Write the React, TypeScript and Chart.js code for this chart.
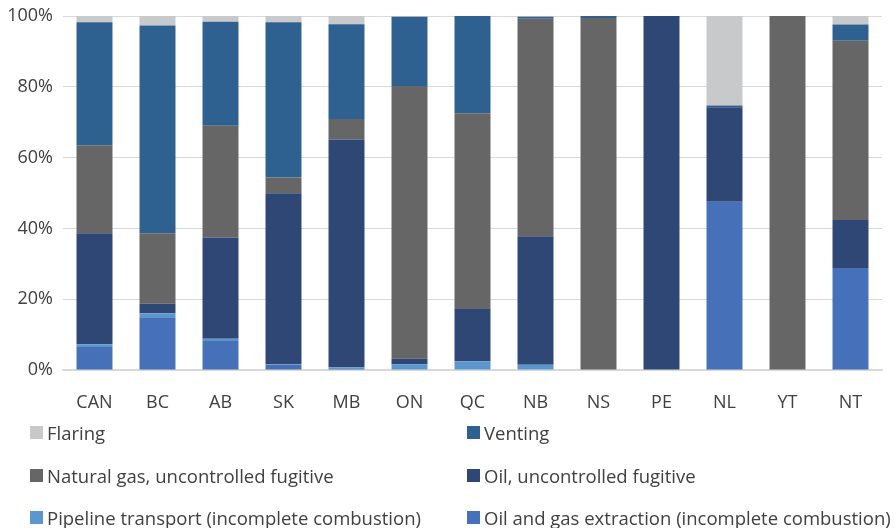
import React, { useEffect, useRef } from "react";
import { Chart, registerables } from "chart.js";

Chart.register(...registerables);

const categories = ["CAN", "BC", "AB", "SK", "MB", "ON", "QC", "NB", "NS", "PE", "NL", "YT", "NT"];

const extraction = [6.5, 14.7, 8.4, 1.5, 0.3, 0, 0, 0, 0, 0, 47.5, 0, 28.8];
const pipeline = [0.8, 1.3, 0.4, 0.2, 0.5, 1.6, 2.5, 1.5, 0, 0, 0, 0, 0];
const oilFugitive = [31.3, 2.7, 28.6, 48.2, 64.3, 1.6, 14.7, 36.3, 0, 100, 26.7, 0, 13.6];
const gasFugitive = [24.9, 19.9, 31.6, 4.5, 5.8, 77.0, 55.3, 61.4, 99.4, 0, 0, 100, 50.6];
const venting = [34.7, 58.7, 29.4, 43.8, 26.8, 19.6, 27.5, 0.6, 0.6, 0, 0.5, 0, 4.6];
const flaring = [1.8, 2.7, 1.6, 1.8, 2.3, 0.2, 0, 0.2, 0, 0, 25.3, 0, 2.4];

const yTicks = [0, 20, 40, 60, 80, 100];

const seriesNames = [
  "Oil and gas extraction (incomplete combustion)",
  "Pipeline transport (incomplete combustion)",
  "Oil, uncontrolled fugitive",
  "Natural gas, uncontrolled fugitive",
  "Venting",
  "Flaring",
];
const seriesValues = [extraction, pipeline, oilFugitive, gasFugitive, venting, flaring];
const seriesColors = ["#4671B8", "#5B97CD", "#2F4774", "#666666", "#2F6190", "#C8C9CB"];

// legend layout: reading order (left column, right column) per row
const legendOrder = [5, 4, 3, 2, 1, 0];

const FONT = "'Open Sans', 'Noto Sans', sans-serif";
const TEXT = "#404040";

export default function App() {
  const ref = useRef<HTMLCanvasElement | null>(null);

  useEffect(() => {
    document.body.style.margin = "0";
    const canvas = ref.current;
    if (!canvas) return;
    const chart = new Chart(canvas, {
      type: "bar",
      data: {
        labels: categories,
        datasets: seriesNames.map((name, i) => ({
          label: name,
          data: seriesValues[i],
          backgroundColor: seriesColors[i],
          borderWidth: 0,
          categoryPercentage: 1,
          barPercentage: 0.571,
        })),
      },
      options: {
        animation: false,
        responsive: false,
        maintainAspectRatio: false,
        layout: { padding: { left: 0, right: 14, top: 16, bottom: 118 } },
        plugins: {
          legend: { display: false },
          tooltip: { enabled: false },
        },
        scales: {
          x: {
            stacked: true,
            grid: { display: false },
            border: { display: true, color: "#D9D9D9", width: 1.5 },
            ticks: {
              color: TEXT,
              font: { family: FONT, size: 18 },
              padding: 14,
              maxRotation: 0,
            },
            afterFit: (s: any) => {
              s.height = 40;
              s.paddingLeft = 0;
              s.paddingRight = 0;
            },
          },
          y: {
            stacked: true,
            min: 0,
            max: 100,
            afterBuildTicks: (s: any) => {
              s.ticks = yTicks.map((v) => ({ value: v }));
            },
            grid: { color: "#D9D9D9", lineWidth: 1, drawTicks: false },
            border: { display: false },
            ticks: {
              color: TEXT,
              font: { family: FONT, size: 18 },
              padding: 10,
              callback: (v: any) => v + "%",
            },
            afterFit: (s: any) => {
              s.width = 63;
              s.paddingTop = 0;
              s.paddingBottom = 0;
            },
          },
        },
      },
    });
    return () => chart.destroy();
  }, []);

  const rowsY = [432, 475, 517];
  const colX = [30, 467];

  return (
    <div style={{ position: "absolute", left: 0, top: 0, width: 896, height: 528, background: "#fff" }}>
      <canvas ref={ref} width={896} height={528} style={{ position: "absolute", left: 0, top: 0 }} />
      {legendOrder.map((idx, k) => {
        const row = Math.floor(k / 2);
        const col = k % 2;
        return (
          <div
            key={idx}
            style={{
              position: "absolute",
              left: colX[col],
              top: rowsY[row] - 13,
              height: 26,
              display: "flex",
              alignItems: "center",
              whiteSpace: "nowrap",
              fontFamily: FONT,
              fontSize: 18.5,
              color: TEXT,
            }}
          >
            <span
              style={{
                display: "inline-block",
                width: 13,
                height: 13,
                background: seriesColors[idx],
                marginRight: 4,
              }}
            />
            <span>{seriesNames[idx]}</span>
          </div>
        );
      })}
    </div>
  );
}
